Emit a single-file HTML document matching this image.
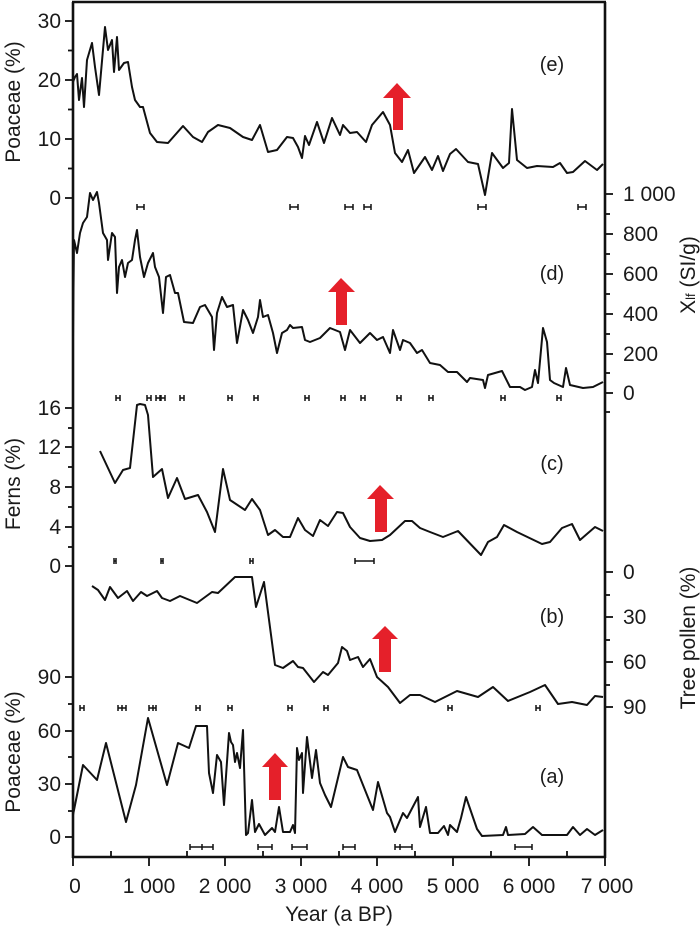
<!DOCTYPE html>
<html><head><meta charset="utf-8"><style>
html,body{margin:0;padding:0;background:#fff}
svg text{font-family:"Liberation Sans",Arial,sans-serif;fill:#1a1a1a}
</style></head><body>
<svg width="700" height="929" viewBox="0 0 700 929" xmlns="http://www.w3.org/2000/svg">
<g stroke="#111" stroke-width="2.6" fill="none">
<line x1="73" y1="2" x2="73" y2="858"/>
<line x1="605" y1="2" x2="605" y2="858"/>
<line x1="72" y1="2" x2="606" y2="2"/>
<line x1="72" y1="857" x2="606" y2="857"/>
</g>
<g stroke="#111" stroke-width="1.8">
<line x1="65" y1="21" x2="73" y2="21"/><line x1="65" y1="80" x2="73" y2="80"/><line x1="65" y1="139" x2="73" y2="139"/><line x1="65" y1="198" x2="73" y2="198"/>
<line x1="68" y1="50.5" x2="73" y2="50.5"/><line x1="68" y1="109.5" x2="73" y2="109.5"/><line x1="68" y1="168.5" x2="73" y2="168.5"/>
<line x1="65" y1="408" x2="73" y2="408"/><line x1="65" y1="447" x2="73" y2="447"/><line x1="65" y1="487" x2="73" y2="487"/><line x1="65" y1="527" x2="73" y2="527"/><line x1="65" y1="566" x2="73" y2="566"/>
<line x1="68" y1="428" x2="73" y2="428"/><line x1="68" y1="467" x2="73" y2="467"/><line x1="68" y1="507" x2="73" y2="507"/><line x1="68" y1="547" x2="73" y2="547"/>
<line x1="65" y1="677" x2="73" y2="677"/><line x1="65" y1="731" x2="73" y2="731"/><line x1="65" y1="784" x2="73" y2="784"/><line x1="65" y1="837" x2="73" y2="837"/>
<line x1="68" y1="704" x2="73" y2="704"/><line x1="68" y1="757" x2="73" y2="757"/><line x1="68" y1="811" x2="73" y2="811"/>
<line x1="605" y1="194" x2="613" y2="194"/><line x1="605" y1="234" x2="613" y2="234"/><line x1="605" y1="274" x2="613" y2="274"/><line x1="605" y1="314" x2="613" y2="314"/><line x1="605" y1="354" x2="613" y2="354"/><line x1="605" y1="393" x2="613" y2="393"/>
<line x1="605" y1="214" x2="610" y2="214"/><line x1="605" y1="254" x2="610" y2="254"/><line x1="605" y1="294" x2="610" y2="294"/><line x1="605" y1="334" x2="610" y2="334"/><line x1="605" y1="373" x2="610" y2="373"/><line x1="605" y1="412" x2="610" y2="412"/>
<line x1="605" y1="572" x2="613" y2="572"/><line x1="605" y1="617" x2="613" y2="617"/><line x1="605" y1="662" x2="613" y2="662"/><line x1="605" y1="707" x2="613" y2="707"/>
<line x1="605" y1="595" x2="610" y2="595"/><line x1="605" y1="640" x2="610" y2="640"/><line x1="605" y1="685" x2="610" y2="685"/>
<line x1="73" y1="857" x2="73" y2="866"/><line x1="149" y1="857" x2="149" y2="866"/><line x1="225" y1="857" x2="225" y2="866"/><line x1="301" y1="857" x2="301" y2="866"/><line x1="377" y1="857" x2="377" y2="866"/><line x1="453" y1="857" x2="453" y2="866"/><line x1="529" y1="857" x2="529" y2="866"/><line x1="605" y1="857" x2="605" y2="866"/>
<line x1="111" y1="851" x2="111" y2="857"/><line x1="187" y1="851" x2="187" y2="857"/><line x1="263" y1="851" x2="263" y2="857"/><line x1="339" y1="851" x2="339" y2="857"/><line x1="415" y1="851" x2="415" y2="857"/><line x1="491" y1="851" x2="491" y2="857"/><line x1="567" y1="851" x2="567" y2="857"/>
</g>
<g font-size="21" text-anchor="end">
<text x="61" y="28">30</text><text x="61" y="87">20</text><text x="61" y="146">10</text><text x="61" y="205">0</text>
<text x="61" y="415">16</text><text x="61" y="454">12</text><text x="61" y="494">8</text><text x="61" y="534">4</text><text x="61" y="573">0</text>
<text x="61" y="684">90</text><text x="61" y="738">60</text><text x="61" y="791">30</text><text x="61" y="844">0</text>
</g>
<g font-size="21" text-anchor="start">
<text x="623" y="201">1 000</text><text x="623" y="241">800</text><text x="623" y="281">600</text><text x="623" y="321">400</text><text x="623" y="361">200</text><text x="623" y="400">0</text>
<text x="623" y="579">0</text><text x="623" y="624">30</text><text x="623" y="669">60</text><text x="623" y="714">90</text>
</g>
<g font-size="21" text-anchor="middle">
<text x="75" y="893">0</text><text x="149" y="893">1 000</text><text x="225" y="893">2 000</text><text x="301" y="893">3 000</text><text x="377" y="893">4 000</text><text x="453" y="893">5 000</text><text x="529" y="893">6 000</text><text x="607" y="893">7 000</text>
<text x="339" y="921">Year (a BP)</text>
<text transform="translate(20,102) rotate(-90)">Poaceae (%)</text>
<text transform="translate(20,484) rotate(-90)">Ferns (%)</text>
<text transform="translate(20,752) rotate(-90)">Poaceae (%)</text>
<text transform="translate(695,275) rotate(-90)">X<tspan font-size="13">lf</tspan> (SI/g)</text>
<text transform="translate(695,638) rotate(-90)">Tree pollen (%)</text>
</g>
<g font-size="20" text-anchor="middle">
<text x="552" y="71">(e)</text><text x="552" y="280">(d)</text><text x="552" y="470">(c)</text><text x="552" y="623">(b)</text><text x="552" y="783">(a)</text>
</g>
<g stroke="#111" stroke-width="2" fill="none" stroke-linejoin="round">
<polyline points="73,82 75,77 77,74 79,100 82,78 84,107 87,60 92,43 95,67 99,95 105,27 108,50 112,40 114,72 117,37 119,70 124,63 128,62 132,87 135,100 140,107 143,107 150,133 157,142 168,143 183,126 193,137 202,142 208,132 218,125 230,128 243,137 252,140 260,125 268,152 277,150 287,137 293,138 298,147 302,158 305,136 309,145 317,122 324,143 332,118 340,135 343,125 350,133 357,132 366,142 372,125 383,112 390,125 395,153 402,162 408,150 414,173 425,157 432,170 438,156 443,171 450,154 456,149 468,162 478,164 485,195 492,153 503,168 509,163 512,109 517,160 527,168 537,166 553,167 560,163 567,173 573,172 585,161 597,170 603,164"/>
<polyline points="73,337 74,240 77,253 80,233 83,223 87,217 90,193 93,200 97,192 99,203 103,233 107,240 108,260 112,233 115,237 117,293 119,267 122,260 125,277 128,263 132,260 135,240 137,230 140,257 144,277 148,263 153,253 155,267 159,277 163,313 166,277 170,275 175,293 178,293 184,322 193,323 200,307 205,305 212,317 214,350 217,313 222,297 227,307 233,305 237,343 243,310 248,320 253,333 258,317 260,300 263,317 268,315 273,333 277,353 282,333 287,330 290,325 293,328 302,327 305,340 310,342 320,338 330,328 340,332 345,350 350,330 360,343 370,333 377,340 383,337 390,353 393,330 400,350 403,340 410,343 417,353 422,350 430,363 440,365 448,372 457,372 467,382 470,378 483,380 485,388 488,375 502,371 510,387 520,387 525,390 532,387 535,370 538,383 543,328 547,342 550,380 554,383 563,387 566,368 570,385 583,388 593,387 603,382"/>
<polyline points="100,451 115,483 123,470 130,468 137,405 140,404 145,405 148,415 153,477 162,469 168,498 177,478 185,499 198,495 207,512 215,532 223,469 230,500 245,510 252,499 260,510 268,535 275,530 283,537 290,537 298,518 305,530 313,536 320,520 328,526 337,512 343,513 350,527 360,538 370,541 382,540 390,535 405,521 412,521 420,528 430,532 443,537 458,531 481,555 488,542 497,537 504,525 517,532 542,544 550,542 562,528 572,524 580,540 595,527 603,531"/>
<polyline points="92,586 98,590 105,600 110,587 118,598 127,591 133,601 141,592 147,596 157,591 162,598 170,601 180,596 197,603 212,592 218,593 235,577 252,577 256,607 264,582 275,665 283,668 293,661 298,667 303,668 314,682 323,672 328,675 338,663 342,647 347,651 350,660 358,657 363,667 370,659 377,677 388,687 400,703 410,695 420,695 435,702 457,691 478,697 493,687 508,701 530,692 545,685 558,704 572,702 587,705 595,696 603,697"/>
<polyline points="73,815 83,765 97,780 106,743 126,822 136,785 148,718 167,785 178,743 189,748 196,726 207,726 209,773 213,793 217,755 221,762 224,805 229,733 231,742 233,745 235,762 237,753 240,768 243,730 246,835 248,833 252,800 255,832 259,824 265,835 272,828 275,832 279,807 283,832 290,832 293,825 295,833 297,748 299,760 302,753 303,793 307,737 312,778 316,750 320,783 325,795 331,807 343,757 348,767 357,770 373,810 378,782 387,813 390,817 395,832 403,813 407,818 418,797 420,827 426,807 430,833 438,833 444,826 448,835 450,825 457,832 461,818 466,797 477,829 482,836 503,835 506,827 508,835 525,834 533,827 542,835 567,835 573,827 580,835 587,829 595,835 603,830"/>
</g>
<g fill="#e5202a">
<polygon points="397,83 411,98 403,98 403,130 393,130 393,98 383,98"/>
<polygon points="341,278 355,292 347,292 347,325 336,325 336,292 328,292"/>
<polygon points="380,485 394,499 387,499 387,532 375,532 375,499 367,499"/>
<polygon points="385,626 398,639 391,639 391,672 379,672 379,639 372,639"/>
<polygon points="275,753 288,767 281,767 281,800 269,800 269,767 262,767"/>
</g>
<g stroke="#111" stroke-width="1.5" fill="none">
<path d="M137,207h7M137,204v6M144,204v6 M290,207h8M290,204v6M298,204v6 M345,207h8M345,204v6M353,204v6 M364,207h7M364,204v6M371,204v6 M478,207h8M478,204v6M486,204v6 M578,207h8M578,204v6M586,204v6"/>
<path d="M116,398h4M116,395v6M120,395v6 M147,398h4M147,395v6M151,395v6 M156,398h4M156,395v6M160,395v6 M161,398h4M161,395v6M165,395v6 M180,398h4M180,395v6M184,395v6 M228,398h4M228,395v6M232,395v6 M254,398h4M254,395v6M258,395v6 M305,398h4M305,395v6M309,395v6 M341,398h4M341,395v6M345,395v6 M361,398h4M361,395v6M365,395v6 M397,398h4M397,395v6M401,395v6 M429,398h4M429,395v6M433,395v6 M501,398h4M501,395v6M505,395v6 M557,398h4M557,395v6M561,395v6"/>
<path d="M114,561h2M114,558v6M116,558v6 M161,561h2M161,558v6M163,558v6 M250,561h3M250,558v6M253,558v6 M355,561h19M355,558v6M374,558v6"/>
<path d="M80,708h4M80,705v6M84,705v6 M118,708h4M118,705v6M122,705v6 M122,708h4M126,705v6 M149,708h4M149,705v6M153,705v6 M153,708h3M156,705v6 M196,708h4M196,705v6M200,705v6 M228,708h4M228,705v6M232,705v6 M288,708h4M288,705v6M292,705v6 M324,708h4M324,705v6M328,705v6 M448,708h4M448,705v6M452,705v6 M536,708h4M536,705v6M540,705v6"/>
<path d="M190,847h23M190,844v6M213,844v6M202,844v6 M258,847h14M258,844v6M272,844v6 M292,847h15M292,844v6M307,844v6 M343,847h12M343,844v6M355,844v6 M395,847h17M395,844v6M412,844v6M400,844v6 M515,847h17M515,844v6M532,844v6"/>
</g>
</svg>
</body></html>
